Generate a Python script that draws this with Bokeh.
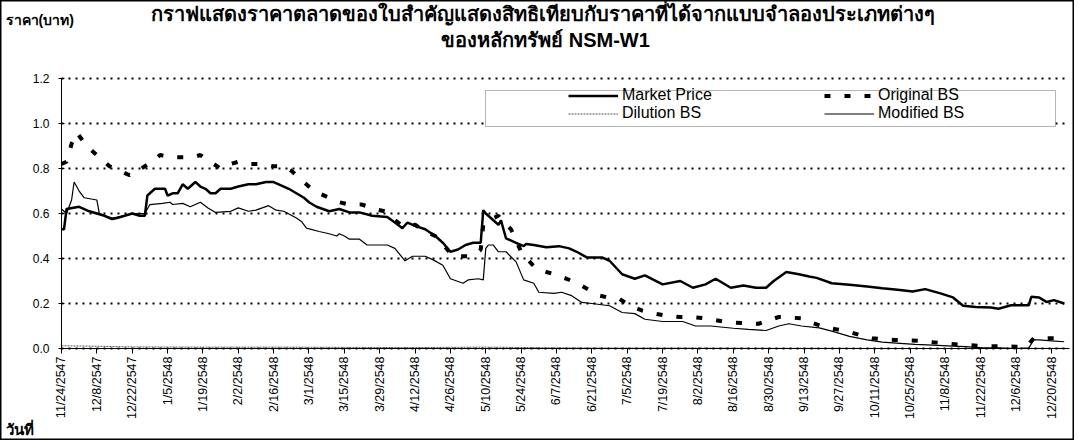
from bokeh.plotting import figure
from bokeh.models import (Range1d, FixedTicker, Legend, LegendItem, Label,
                          BoxAnnotation, PrintfTickFormatter)
from bokeh.embed import file_html
from bokeh.resources import INLINE
from math import pi

# ---------------- data ----------------
tick_labels = ["11/24/2547", "12/8/2547", "12/22/2547", "1/5/2548", "1/19/2548",
               "2/2/2548", "2/16/2548", "3/1/2548", "3/15/2548", "3/29/2548",
               "4/12/2548", "4/26/2548", "5/10/2548", "5/24/2548", "6/7/2548",
               "6/21/2548", "7/5/2548", "7/19/2548", "8/2/2548", "8/16/2548",
               "8/30/2548", "9/13/2548", "9/27/2548", "10/11/2548", "10/25/2548",
               "11/8/2548", "11/22/2548", "12/6/2548", "12/20/2548"]
tick_days = [14 * i for i in range(len(tick_labels))]  # days since 11/24/2547

market_days = [0, 1, 2, 7, 11, 14, 17, 20, 22, 25, 28, 31, 33, 34, 35, 37, 41, 42, 44, 46,
               48, 50, 51, 53, 55, 57, 59, 61, 63, 67, 70, 74, 77, 81, 84, 88, 90, 93, 96, 98,
               101, 106, 110, 114, 118, 123, 129, 132, 135, 137, 140, 144, 148, 151, 154, 157,
               160, 163, 166, 167, 168, 171, 173, 174, 176, 180, 183, 184, 187, 192, 197, 201,
               204, 208, 214, 217, 222, 227, 231, 238, 245, 250, 255, 259, 265, 270, 275, 279,
               282, 287, 292, 296, 299, 305, 312, 319, 325, 332, 337, 342, 348, 353, 357, 362,
               368, 371, 376, 383, 384, 387, 390, 393, 397]
market_price = [0.53, 0.53, 0.62, 0.63, 0.61, 0.60, 0.59, 0.575, 0.58, 0.59, 0.60, 0.59, 0.59,
                0.68, 0.69, 0.71, 0.71, 0.68, 0.69, 0.69, 0.73, 0.71, 0.72, 0.74, 0.72, 0.71,
                0.69, 0.69, 0.71, 0.71, 0.72, 0.73, 0.73, 0.74, 0.74, 0.72, 0.71, 0.69, 0.67,
                0.65, 0.63, 0.61, 0.62, 0.605, 0.605, 0.59, 0.585, 0.56, 0.535, 0.56, 0.545,
                0.53, 0.50, 0.47, 0.43, 0.44, 0.46, 0.47, 0.47, 0.615, 0.60, 0.57, 0.55, 0.57,
                0.49, 0.47, 0.455, 0.465, 0.46, 0.45, 0.455, 0.445, 0.43, 0.405, 0.405, 0.39,
                0.33, 0.31, 0.325, 0.285, 0.30, 0.27, 0.285, 0.31, 0.27, 0.28, 0.27, 0.27, 0.30,
                0.34, 0.33, 0.32, 0.314, 0.29, 0.283, 0.276, 0.268, 0.26, 0.253, 0.264, 0.245,
                0.227, 0.19, 0.185, 0.182, 0.177, 0.192, 0.192, 0.23, 0.227, 0.207, 0.215, 0.20]

original_days = [0, 2, 4, 6, 8, 10, 14, 19, 23, 27, 30, 33, 36, 39, 44, 48, 52, 55, 59, 63, 67,
                 70, 75, 79, 84, 88, 91, 96, 99, 102, 106, 110, 114, 119, 124, 128, 131, 135,
                 140, 144, 148, 152, 155, 158, 161, 164, 166, 167, 169, 173, 175, 178, 182, 185,
                 188, 192, 195, 200, 205, 209, 213, 217, 221, 225, 230, 235, 240, 245, 250, 254,
                 257, 262, 267, 272, 276, 280, 284, 288, 293, 297, 302, 307, 312, 316, 321, 326,
                 330, 335, 340, 345, 350, 355, 359, 364, 368, 373, 378, 382, 385, 390, 394, 397]
original_bs = [0.82, 0.83, 0.91, 0.96, 0.93, 0.90, 0.86, 0.81, 0.79, 0.77, 0.79, 0.81, 0.83,
               0.86, 0.85, 0.85, 0.85, 0.86, 0.83, 0.80, 0.82, 0.83, 0.82, 0.82, 0.81, 0.81,
               0.79, 0.74, 0.71, 0.69, 0.67, 0.65, 0.64, 0.64, 0.62, 0.61, 0.58, 0.545, 0.55,
               0.52, 0.50, 0.45, 0.41, 0.41, 0.41, 0.42, 0.44, 0.55, 0.57, 0.59, 0.56, 0.53,
               0.43, 0.39, 0.355, 0.34, 0.33, 0.31, 0.285, 0.26, 0.235, 0.225, 0.22, 0.19,
               0.168, 0.155, 0.145, 0.14, 0.14, 0.135, 0.13, 0.12, 0.115, 0.112, 0.11, 0.125,
               0.14, 0.138, 0.134, 0.115, 0.095, 0.085, 0.074, 0.06, 0.046, 0.04, 0.038, 0.036,
               0.034, 0.028, 0.023, 0.018, 0.015, 0.012, 0.01, 0.009, 0.008, 0.008, 0.046,
               0.046, 0.046, 0.045]

dilution_days = [0, 14, 28, 56, 84, 112, 140, 168, 196, 224, 252, 280, 308, 336, 364, 397]
dilution_bs = [0.012, 0.010, 0.007, 0.006, 0.006, 0.005, 0.004, 0.006, 0.003, 0.002, 0.002,
               0.001, 0.001, 0.0, 0.0, 0.001]

modified_days = [0, 2, 4, 5, 7, 9, 14, 15, 20, 25, 28, 33, 35, 40, 43, 44, 48, 51, 55, 58, 61,
                 67, 70, 74, 77, 82, 85, 88, 93, 95, 97, 102, 106, 109, 110, 112, 114, 118, 121,
                 129, 132, 136, 139, 144, 147, 151, 154, 159, 161, 165, 167, 168, 169, 171, 173,
                 176, 180, 183, 187, 189, 195, 198, 202, 206, 210, 217, 222, 227, 231, 238, 246,
                 251, 257, 266, 272, 279, 284, 288, 293, 300, 305, 312, 319, 325, 332, 338, 345,
                 351, 358, 365, 371, 378, 383, 385, 387, 392, 397]
modified_bs = [0.62, 0.60, 0.66, 0.74, 0.70, 0.67, 0.66, 0.60, 0.58, 0.59, 0.60, 0.60, 0.64,
               0.645, 0.65, 0.64, 0.645, 0.63, 0.65, 0.625, 0.605, 0.61, 0.625, 0.61, 0.615,
               0.635, 0.615, 0.61, 0.58, 0.565, 0.535, 0.52, 0.51, 0.50, 0.51, 0.50, 0.486,
               0.486, 0.46, 0.46, 0.445, 0.39, 0.41, 0.41, 0.395, 0.37, 0.31, 0.29, 0.305, 0.31,
               0.305, 0.445, 0.46, 0.46, 0.43, 0.43, 0.385, 0.305, 0.29, 0.25, 0.245, 0.25,
               0.235, 0.205, 0.20, 0.19, 0.16, 0.155, 0.13, 0.12, 0.12, 0.10, 0.10, 0.09, 0.085,
               0.08, 0.10, 0.11, 0.10, 0.092, 0.077, 0.054, 0.038, 0.028, 0.023, 0.018, 0.015,
               0.012, 0.008, 0.003, 0.003, 0.0, 0.003, 0.038, 0.038, 0.034, 0.03]

y_ticks = [0.0, 0.2, 0.4, 0.6, 0.8, 1.0, 1.2]

title_line1 = "กราฟแสดงราคาตลาดของใบสำคัญแสดงสิทธิเทียบกับราคาที่ได้จากแบบจำลองประเภทต่างๆ"
title_line2 = "ของหลักทรัพย์ NSM-W1"
y_title = "ราคา(บาท)"
x_title = "วันที่"

# ---------------- figure ----------------
# The frame covers the whole canvas; axes are pinned at day 0 / price 0 so that
# titles and axis captions can sit inside the frame without being clipped.
W, H = 1074, 440
FONT = "Liberation Sans"
p = figure(width=W, height=H, output_backend="svg", toolbar_location=None, title=None,
           x_range=Range1d(-24.15, 401.1), y_range=Range1d(-0.409, 1.547),
           min_border=0)
p.outline_line_color = "black"
p.outline_line_width = 2
p.background_fill_color = "white"
p.border_fill_color = "white"

# axes
xa = p.xaxis[0]
xa.fixed_location = 0
xa.bounds = (0, 399)
xa.ticker = FixedTicker(ticks=tick_days)
xa.major_label_overrides = {d: s for d, s in zip(tick_days, tick_labels)}
xa.major_label_orientation = pi / 2
xa.major_tick_out = 5
xa.major_tick_in = 0
xa.minor_tick_line_color = None
xa.major_label_standoff = 3
xa.major_label_text_font = FONT
xa.major_label_text_font_size = "12.5px"
xa.major_label_text_color = "black"
xa.axis_line_color = "black"

ya = p.yaxis[0]
ya.fixed_location = 0
ya.bounds = (0, 1.2)
ya.ticker = FixedTicker(ticks=y_ticks)
ya.formatter = PrintfTickFormatter(format="%.1f")
ya.major_tick_in = 3
ya.major_tick_out = 3
ya.minor_tick_line_color = None
ya.major_label_standoff = 9
ya.major_label_text_font = FONT
ya.major_label_text_font_size = "12px"
ya.major_label_text_color = "black"
ya.axis_line_color = "black"

p.xgrid.visible = False
yg = p.ygrid[0]
yg.grid_line_color = "black"
yg.grid_line_dash = "2 5"
yg.grid_line_width = 2
yg.bounds = (0, 1.2)
if "cross_bounds" in yg.properties():
    yg.cross_bounds = (0, 399)
else:
    yg.visible = False
    p.multi_line([[0, 399] for _ in y_ticks[1:]], [[t, t] for t in y_ticks[1:]],
                 line_color="black", line_dash="2 5", line_width=2)

# lines
r_mod = p.line(modified_days, modified_bs, color="black", line_width=1.2)
r_dil = p.line(dilution_days, dilution_bs, color="#555555", line_width=1, line_dash="2 1")
r_orig = p.line(original_days, original_bs, color="black", line_width=4, line_dash="6 14")
r_mp = p.line(market_days, market_price, color="black", line_width=2.5)

# legend box
box = BoxAnnotation(left=167.9, right=393.6, bottom=0.987, top=1.147,
                    fill_color="white", fill_alpha=1, line_color="black", line_width=1)
p.add_layout(box)

legend = Legend(items=[LegendItem(label="Market Price", renderers=[r_mp]),
                       LegendItem(label="Dilution BS", renderers=[r_dil]),
                       LegendItem(label="Original BS", renderers=[r_orig]),
                       LegendItem(label="Modified BS", renderers=[r_mod])],
                orientation="vertical", ncols=2, location=(568, 318),
                border_line_color=None, background_fill_alpha=0,
                padding=0, margin=0, spacing=0,
                glyph_width=50, glyph_height=15, label_height=15, label_width=202,
                label_standoff=4, label_text_font=FONT, label_text_font_size="16px",
                label_text_color="black")
p.add_layout(legend, "center")

# titles (screen units = pixels from the canvas' lower-left corner)
def add_text(x, y, text, size, align):
    p.add_layout(Label(x=x, y=y, x_units="screen", y_units="screen", text=text,
                       text_align=align, text_baseline="middle", text_font=FONT,
                       text_font_size=size, text_font_style="bold", text_color="black"))

add_text(542, H - 13, title_line1, "20px", "center")
add_text(545, H - 39, title_line2, "20px", "center")
add_text(5, H - 19, y_title, "14px", "left")
add_text(5, H - 429, x_title, "15px", "left")

open("out.html", "w").write(file_html(p, INLINE))
